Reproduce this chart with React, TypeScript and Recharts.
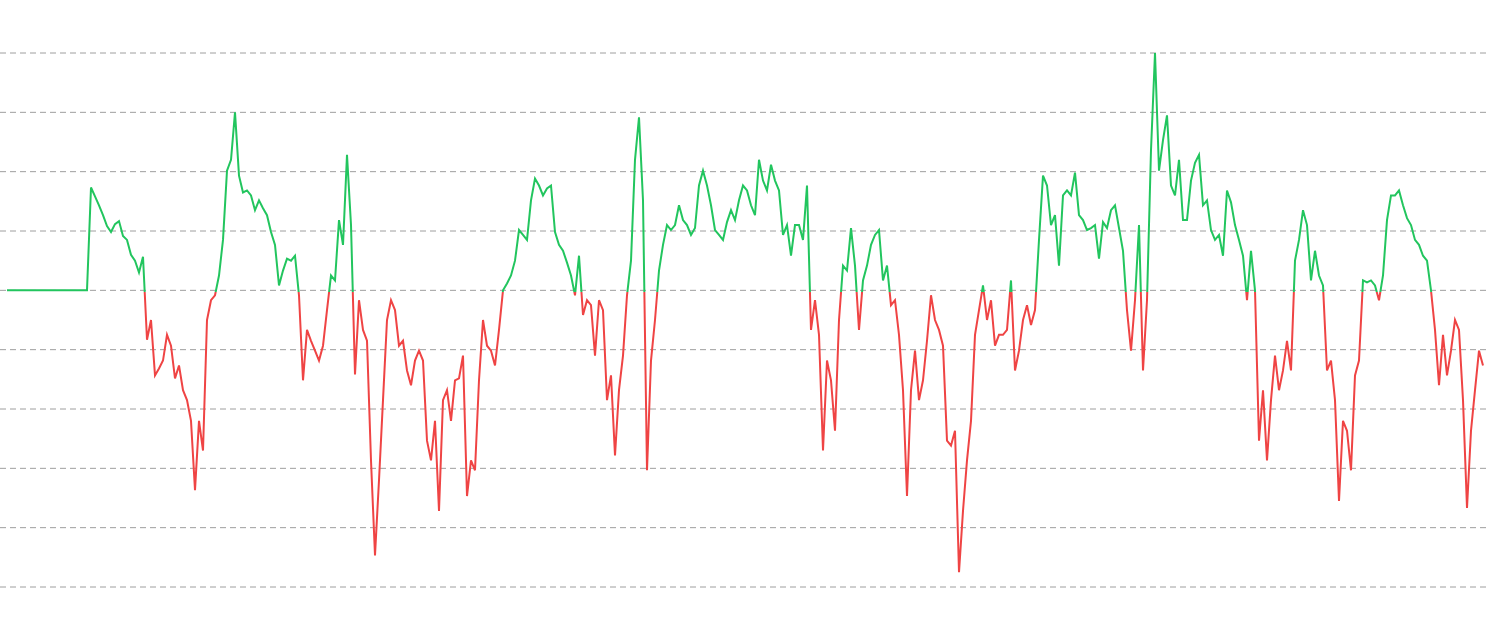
import { LineChart, Line, XAxis, YAxis, CartesianGrid } from "recharts";

// running P&L in chunks
const flatStart = [
  0, 0, 0, 0, 0, 0, 0, 0, 0, 0, 0, 0, 0, 0, 0, 0, 0, 0, 0, 0, 0,
];

const part1 = [
  104, 95, 86, 76, 65, 59, 67, 70, 55, 51,
  36, 30, 18, 34, -50, -30, -86, -79, -71, -45,
  -56, -89, -76, -101, -111, -132, -202, -132, -162, -30,
  -10, -5, 15, 51, 121, 132, 180, 116, 99, 101,
  96, 81, 91, 83, 76, 59, 46, 5, 20, 32,
  30, 35, -5, -91, -40, -51, -61, -71, -56, -20,
];

const part2 = [
  15, 10, 71, 46, 137, 66, -85, -10, -40, -51,
  -172, -268, -192, -111, -30, -10, -20, -56, -51, -81,
  -96, -71, -61, -71, -152, -172, -132, -223, -111, -101,
  -132, -91, -89, -66, -208, -172, -182, -91, -30, -56,
  -61, -76, -40, 0, 7, 15, 30, 61, 56, 51,
  91, 113, 106, 96, 103, 106, 59, 46, 40, 28,
];

const part3 = [
  15, -5, 35, -25, -10, -15, -66, -10, -20, -111,
  -86, -167, -101, -66, -5, 30, 132, 175, 91, -182,
  -71, -30, 20, 46, 66, 61, 66, 86, 71, 66,
  56, 63, 106, 121, 106, 86, 61, 56, 51, 69,
  81, 71, 91, 106, 101, 86, 76, 132, 111, 101,
  127, 111, 101, 56, 66, 35, 66, 66, 51, 106,
];

const part4 = [
  -40, -10, -45, -162, -71, -91, -142, -30, 25, 20,
  63, 25, -40, 10, 25, 46, 56, 61, 10, 25,
  -15, -10, -45, -101, -208, -101, -61, -111, -91, -51,
  -5, -30, -40, -56, -152, -157, -142, -285, -223, -172,
  -132, -45, -20, 5, -30, -10, -56, -45, -45, -40,
  10, -81, -61, -30, -15, -35, -20, 51, 116,
];

const part5 = [
  106, 66, 76, 25, 96, 101, 96, 119, 76, 71,
  61, 63, 66, 32, 69, 63, 81, 86, 63, 40,
  -20, -61, -10, 66, -81, -10, 142, 240, 121, 152,
  177, 106, 96, 132, 71, 71, 111, 129, 137, 86,
  91, 61, 51, 56, 35, 101, 89, 66, 51, 35,
  -10, 40, 0, -152, -101,
];

const part6 = [
  -172, -111, -66, -101, -81, -51, -81, 30, 51, 81,
  66, 10, 40, 15, 5, -81, -71, -111, -213, -132,
  -142, -182, -86, -71, 10, 8, 10, 5, -10, 15,
  71, 96, 96, 101, 86, 73, 66, 51, 46, 35,
  30, 0, -40, -96, -45, -86, -61, -30, -40, -111,
  -220, -142, -101, -61, -76,
];

const yTicks = [-300, -240, -180, -120, -60, 0, 60, 120, 180, 240];

const values = [...flatStart, ...part1, ...part2, ...part3, ...part4, ...part5, ...part6];
const data = values.map((v, i) => ({ i, v }));

const maxV = Math.max(...values);
const minV = Math.min(...values);
// split a hair below zero so the flat start stays green
const split = (maxV + 1.5) / (maxV - minV);

export default function App() {
  return (
    <div style={{ position: "absolute", left: 0, top: 0 }}>
      <LineChart
        width={1490}
        height={633}
        data={data}
        margin={{ top: 53, right: 0, bottom: 46, left: 0 }}
      >
        <defs>
          <linearGradient id="pnlSplit" x1="0" y1="0" x2="0" y2="1">
            <stop offset={split} stopColor="#22c55e" />
            <stop offset={split} stopColor="#ef4444" />
          </linearGradient>
        </defs>
        <CartesianGrid vertical={false} stroke="#9e9e9e" strokeDasharray="6 4" />
        <XAxis
          dataKey="i"
          type="number"
          domain={[0, values.length - 1]}
          padding={{ left: 7, right: 7 }}
          hide
        />
        <YAxis domain={[-300, 240]} ticks={yTicks} hide />
        <Line
          type="linear"
          dataKey="v"
          stroke="url(#pnlSplit)"
          strokeWidth={2}
          dot={false}
          isAnimationActive={false}
        />
      </LineChart>
    </div>
  );
}
